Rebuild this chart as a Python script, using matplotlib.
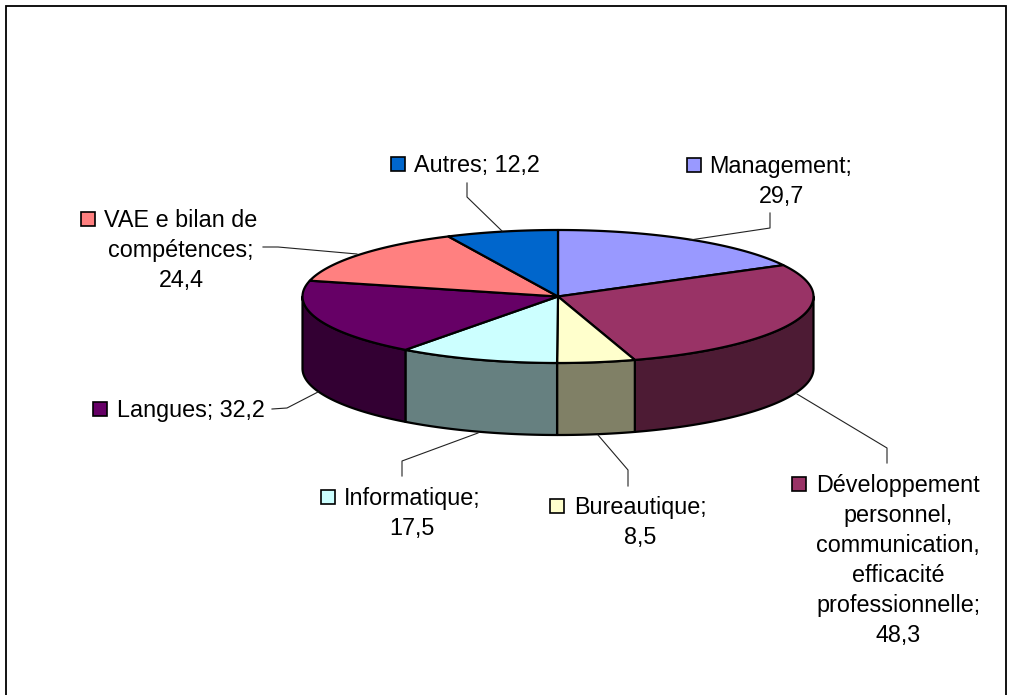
# coding: utf-8

import numpy as np
import matplotlib
matplotlib.use('Agg')
import matplotlib.pyplot as plt
from matplotlib.patches import Polygon, Rectangle

plt.rcParams['font.family'] = ['Liberation Sans', 'DejaVu Sans']

categories = ['Management', 'Développement personnel, communication, efficacité professionnelle',
              'Bureautique', 'Informatique', 'Langues', 'VAE e bilan de compétences', 'Autres']
values = [29.7, 48.3, 8.5, 17.5, 32.2, 24.4, 12.2]
top_colors = ['#9999FF', '#993366', '#FFFFCC', '#CCFFFF', '#660066', '#FF8080', '#0066CC']
side_colors = ['#66669A', '#4D1B34', '#808066', '#668080', '#330033', '#804040', '#003366']

label_lines = [['Management;', '29,7'],
               ['Développement', 'personnel,', 'communication,', 'efficacité', 'professionnelle;', '48,3'],
               ['Bureautique;', '8,5'],
               ['Informatique;', '17,5'],
               ['Langues; 32,2'],
               ['VAE e bilan de', 'compétences;', '24,4'],
               ['Autres; 12,2']]
# text centre x, middle y of first line, centre x of legend key
label_pos = [(781, 165, 694), (898, 484, 799), (640, 506, 557), (412, 497, 328),
             (191, 409, 100), (181, 219, 88), (477, 164, 398)]
leaders = [[(690, 240), (770, 228), (770, 213)],
           [(797, 394), (887, 448), (887, 463)],
           [(598, 435), (628, 470), (628, 486)],
           [(478, 433), (402, 461), (402, 476)],
           [(318, 392), (287, 408), (272, 409)],
           [(357, 254), (278, 247), (263, 247)],
           [(502, 231), (467, 197), (467, 183)]]

W, H = 1013, 695
CX, CY, RX, RY, DEPTH = 558, 296.5, 255.5, 66.5, 72


def rim(a0, a1, n=80):
    # angles clockwise from 12 o'clock, in degrees
    t = np.radians(np.linspace(a0, a1, n))
    return CX + RX * np.sin(t), CY - RY * np.cos(t)


fig = plt.figure(figsize=(W / 100, H / 100), dpi=100)
ax = fig.add_axes([0, 0, 1, 1])
ax.set_xlim(0, W)
ax.set_ylim(H, 0)
ax.axis('off')

ax.add_patch(Rectangle((6, 6), 1000, 740, fc='white', ec='black', lw=1.3))

edges = np.concatenate([[0], np.cumsum(values)]) / np.sum(values) * 360

# outer wall, only the part facing front (90..270 deg)
for i in range(len(values)):
    a0, a1 = max(edges[i], 90), min(edges[i + 1], 270)
    if a1 <= a0:
        continue
    x, y = rim(a0, a1)
    pts = np.r_[np.c_[x, y], np.c_[x[::-1], y[::-1] + DEPTH]]
    ax.add_patch(Polygon(pts, closed=True, fc=side_colors[i], ec='black', lw=1.6, joinstyle='round'))

# top slices
for i in range(len(values)):
    x, y = rim(edges[i], edges[i + 1])
    pts = np.r_[[[CX, CY]], np.c_[x, y]]
    ax.add_patch(Polygon(pts, closed=True, fc=top_colors[i], ec='black', lw=1.6, joinstyle='round'))

for line in leaders:
    xs, ys = zip(*line)
    ax.plot(xs, ys, color='#222222', lw=0.8)

line_h = 30
for i, lines in enumerate(label_lines):
    lx, ly, kx = label_pos[i]
    for j, s in enumerate(lines):
        ax.text(lx, ly + 8 + j * line_h, s, ha='center', va='baseline', fontsize=16.8, color='black')
    ax.add_patch(Rectangle((kx - 7, ly - 7), 14, 14, fc=top_colors[i], ec='black', lw=1.2))

fig.savefig('out.png', dpi=100)
